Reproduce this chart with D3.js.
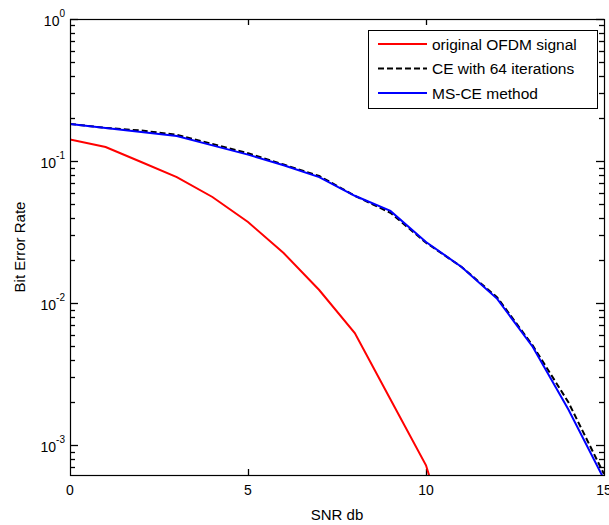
<!DOCTYPE html>
<html>
<head>
<meta charset="utf-8">
<script src="https://cdn.jsdelivr.net/npm/d3@7"></script>
<style>
  body { margin: 0; background: #fff; }
  svg { font-family: "Liberation Sans", Arial, sans-serif; }
</style>
</head>
<body>
<div id="chart"></div>
<script>
// data
var snr = [0, 1, 2, 3, 4, 5, 6, 7, 8, 9, 10, 11, 12, 13, 14, 15];
var berOriginal = [0.142, 0.1255, 0.0984, 0.0771, 0.0558, 0.0372, 0.0225, 0.01235, 0.00615, 0.0021, 0.00072, 0.00011];
var berCE64 = [0.1824, 0.171, 0.164, 0.153, 0.132, 0.1135, 0.0944, 0.0785, 0.0569, 0.0432, 0.0266, 0.01795, 0.01096, 0.00501, 0.0020, 0.000624];
var berMSCE = [0.1824, 0.171, 0.160, 0.150, 0.1288, 0.1109, 0.0933, 0.0771, 0.0569, 0.0445, 0.0269, 0.01795, 0.0107, 0.0049, 0.00178, 0.000575];
var xTicks = [0, 5, 10, 15];
var yDecades = [-3, -2, -1, 0];
var legendNames = ["original OFDM signal", "CE with 64 iterations", "MS-CE method"];

var svgWidth = 609, svgHeight = 525;
var margin = {top: 19, right: 5, bottom: 50, left: 70};
var width = 604 - margin.left;
var height = 475 - margin.top;

var svg = d3.select("#chart").append("svg")
    .attr("width", svgWidth)
    .attr("height", svgHeight);

var chart = svg.append("g")
    .attr("transform", "translate(" + margin.left + "," + margin.top + ")");

var x = d3.scaleLinear().domain([0, 15]).range([0, width]);
var y = d3.scaleLog().domain([Math.pow(10, -3.211), 1]).range([height, 0]);

chart.append("clipPath").attr("id", "clip")
  .append("rect").attr("width", width).attr("height", height);

// y tick values: every k*10^e inside the domain
var yTickVals = [];
[-4, -3, -2, -1].forEach(function(e) {
    for (var k = 1; k < 10; k++) {
        var v = k * Math.pow(10, e);
        if (v >= y.domain()[0]) yTickVals.push(v);
    }
});
yTickVals.push(1);
function isMajor(v) { return Math.abs(Math.log10(v) - Math.round(Math.log10(v))) < 1e-9; }

// inward ticks on left/right (y) and bottom/top (x)
var ticks = chart.append("g").attr("class", "ticks");
yTickVals.forEach(function(v) {
    var len = isMajor(v) ? 8 : 5;
    var yy = Math.round(y(v)) + 0.5;
    ticks.append("path").attr("d", "M0," + yy + "H" + len)
        .attr("stroke", "#000").attr("stroke-width", 1.3);
    ticks.append("path").attr("d", "M" + width + "," + yy + "H" + (width - len))
        .attr("stroke", "#000").attr("stroke-width", 1.3);
});
xTicks.slice(1, -1).forEach(function(v) {
    var xx = Math.round(x(v)) + 0.5;
    ticks.append("path").attr("d", "M" + xx + "," + height + "V" + (height - 6))
        .attr("stroke", "#000").attr("stroke-width", 1.3);
    ticks.append("path").attr("d", "M" + xx + ",0V6")
        .attr("stroke", "#000").attr("stroke-width", 1.3);
});

// x tick labels
chart.selectAll(".xlab").data(xTicks).enter().append("text")
    .attr("class", "xlab")
    .attr("x", d => x(d))
    .attr("y", height + 20)
    .attr("text-anchor", "middle")
    .style("font-size", "14px")
    .text(d => d);

// y tick labels 10^n
var ylab = chart.selectAll(".ylab").data(yDecades).enter().append("text")
    .attr("class", "ylab")
    .attr("x", -5)
    .attr("y", d => y(Math.pow(10, d)) + 7)
    .attr("text-anchor", "end")
    .style("font-size", "14px");
ylab.append("tspan").text("10");
ylab.append("tspan").attr("dy", -9).style("font-size", "10px").text(d => d);

// lines
var line = d3.line()
    .x((d, i) => x(snr[i]))
    .y(d => y(d));

var plot = chart.append("g").attr("clip-path", "url(#clip)");
plot.append("path").datum(berOriginal)
    .attr("d", line).attr("fill", "none").attr("stroke", "#ff0000").attr("stroke-width", 2);
plot.append("path").datum(berCE64)
    .attr("d", line).attr("fill", "none").attr("stroke", "#000").attr("stroke-width", 2)
    .attr("stroke-dasharray", "6,3");
plot.append("path").datum(berMSCE)
    .attr("d", line).attr("fill", "none").attr("stroke", "#0000ff").attr("stroke-width", 2);

// frame
chart.append("rect").attr("x", 0.5).attr("y", 0.5).attr("width", width).attr("height", height)
    .attr("fill", "none").attr("stroke", "#000").attr("stroke-width", 1.2);

// legend
var legend = svg.append("g").attr("transform", "translate(368,30)");
legend.append("rect").attr("x", 0.5).attr("y", 0.5).attr("width", 229).attr("height", 78)
    .attr("fill", "#fff").attr("stroke", "#000").attr("stroke-width", 1);
var legStyles = [
    {color: "#ff0000", dash: null},
    {color: "#000", dash: "6,3"},
    {color: "#0000ff", dash: null}
];
legendNames.forEach(function(name, i) {
    var ly = 14 + i * 24.5;
    legend.append("line").attr("x1", 10).attr("x2", 59).attr("y1", ly).attr("y2", ly)
        .attr("stroke", legStyles[i].color).attr("stroke-width", 2)
        .attr("stroke-dasharray", legStyles[i].dash);
    legend.append("text").attr("x", 64).attr("y", ly + 5.5)
        .style("font-size", "15.5px").text(name);
});

// axis titles
svg.append("text")
    .attr("x", margin.left + width / 2).attr("y", 520)
    .attr("text-anchor", "middle").style("font-size", "15px")
    .text("SNR db");
svg.append("text")
    .attr("transform", "translate(25," + (margin.top + height / 2) + ") rotate(-90)")
    .attr("text-anchor", "middle").style("font-size", "15px")
    .text("Bit Error Rate");
</script>
</body>
</html>
